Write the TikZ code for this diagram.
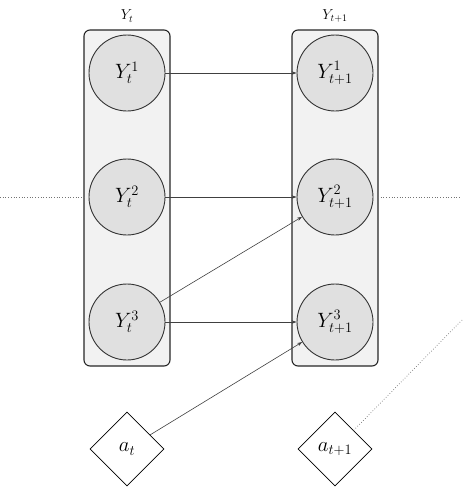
\documentclass[tikz,border=0pt]{standalone}
\usetikzlibrary{shapes.geometric,arrows.meta}
\begin{document}
\begin{tikzpicture}[x=1pt,y=-1pt,
  slab/.style={draw=black!85,line width=1.1pt,fill=black!5,rounded corners=6pt},
  var/.style={circle,draw=black!80,line width=0.9pt,fill=black!12,minimum size=76pt,inner sep=0pt,font=\fontsize{21}{25}\selectfont},
  act/.style={diamond,draw=black,line width=0.8pt,fill=white,minimum size=74pt,inner sep=0pt,font=\fontsize{20}{24}\selectfont},
  lab/.style={font=\fontsize{14}{16}\selectfont},
  link/.style={draw=black!75,line width=0.6pt,-{Stealth[length=5pt,width=3.5pt]}},
  dots/.style={draw=black!55,line width=0.7pt,dotted}]
\useasboundingbox (0,0) rectangle (466,490);
\draw[slab] (84,30) rectangle (170,366);
\draw[slab] (292,30) rectangle (378,366);
\node[lab] (lt) at (127,16) {$Y_t$};
\node[lab] (lt1) at (335,16) {$Y_{t+1}$};
\node[var] (a1) at (127,73) {$Y_t^1$};
\node[var] (a2) at (127,197) {$Y_t^2$};
\node[var] (a3) at (127,322) {$Y_t^3$};
\node[var] (b1) at (335,73) {$Y_{t+1}^1$};
\node[var] (b2) at (335,197) {$Y_{t+1}^2$};
\node[var] (b3) at (335,322) {$Y_{t+1}^3$};
\node[act] (at) at (127,449) {$a_t$};
\node[act] (at1) at (335,449) {$a_{t+1}$};
\coordinate (dl) at (0,197);
\coordinate (dlb) at (84,197);
\coordinate (dr) at (378,197);
\coordinate (dre) at (460,197);
\coordinate (dd) at (462,320);
\draw[link] (a1) -- (b1);
\draw[link] (a2) -- (b2);
\draw[link] (a3) -- (b3);
\draw[link] (a3) -- (b2);
\draw[link] (at) -- (b3);
\draw[dots] (dl) -- (dlb);
\draw[dots] (dr) -- (dre);
\draw[dots] (at1.north east) -- (dd);
\end{tikzpicture}
\end{document}
